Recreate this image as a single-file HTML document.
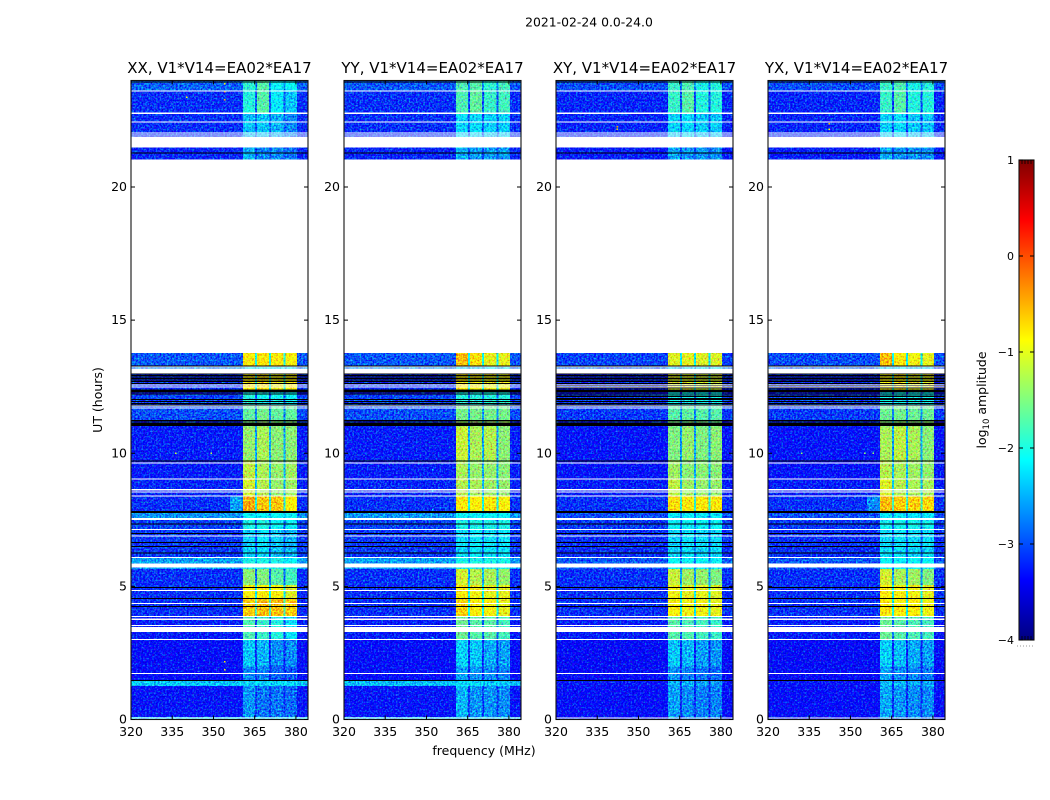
<!DOCTYPE html>
<html lang="en">
<head>
<meta charset="utf-8">
<title>2021-02-24 0.0-24.0</title>
<style>
html,body{margin:0;padding:0;background:#fff;width:1050px;height:800px;overflow:hidden}
svg{display:block}
text{font-family:"DejaVu Sans","Liberation Sans",sans-serif;fill:#000}
</style>
</head>
<body>
<svg id="figure" xmlns="http://www.w3.org/2000/svg" width="1050" height="800" viewBox="0 0 1050 800">
<defs>
<filter id="speckle" x="0" y="0" width="1" height="1" color-interpolation-filters="sRGB">
<feTurbulence type="fractalNoise" baseFrequency="0.55" numOctaves="2" seed="7" result="n"/>
<feColorMatrix in="n" type="matrix" values="0.5 0 0 0 0.25  0 1 0 0 0  0 0 0.5 0 0.25  0 0 0 0 1" result="c"/>
<feComposite in="SourceGraphic" in2="c" operator="arithmetic" k1="0" k2="1" k3="1.5" k4="-0.75" result="m"/>
<feComposite in="m" in2="SourceAlpha" operator="in"/>
</filter>
<linearGradient id="jet-gradient" x1="0" y1="1" x2="0" y2="0"></linearGradient>
</defs>
<text x="589" y="26.5" font-size="12.4" text-anchor="middle">2021-02-24 0.0-24.0</text>
<g id="panels"></g>
<text transform="translate(102,400) rotate(-90)" font-size="12.5" text-anchor="middle">UT (hours)</text>
<text x="484" y="755" font-size="12.5" text-anchor="middle">frequency (MHz)</text>
<g id="colorbar"></g>
<text transform="translate(986,400) rotate(-90)" font-size="12.5" text-anchor="middle">log<tspan font-size="8.5" dy="3">10</tspan><tspan dy="-3"> amplitude</tspan></text>
</svg>
<script>
const panelTitles = ['XX, V1*V14=EA02*EA17', 'YY, V1*V14=EA02*EA17', 'XY, V1*V14=EA02*EA17', 'YX, V1*V14=EA02*EA17'];
const xTicks = [320, 335, 350, 365, 380];
const yTicks = [0, 5, 10, 15, 20];
const colorTicks = [1, 0, -1, -2, -3, -4];

const subbandEdges = [[360.7, 365.2], [365.9, 370.3], [371, 375.5], [376.2, 380.4]];
const shoulderStart = 356;
const timeEdges = [24, 23.62, 22.8, 21.89, 21.48, 21.03, 13.77, 13.3, 13, 12.4, 12.21, 11.8, 11.24, 11.01, 9.74, 9.06, 8.39, 7.82, 7.56, 7.11, 6.06, 5.65, 5.05, 4.52, 3.88, 2.98, 2.0, 1.44, 1.26, 0.09, 0];

const levelsXX = [
[-2.9,-1.9,-1.7,-2.1,-2.1],[-3.15,-1.95,-1.7,-2.2,-2.4],[-3.15,-2.45,-2.4,-2.5,-2.7],[-3.15,-2.4,-2.4,-2.5,-2.6],[-3.2,-2.5,-2.7,-2.7,-2.8],[-3,-3,-3,-3,-3],
[-2.95,-0.8,-0.8,-0.8,-0.9],[-2.7,-2.3,-2.3,-2.3,-2.3],[-3.15,-0.85,-0.75,-0.95,-0.85],[-3.3,-2,-2,-2.1,-2.1],[-3.05,-1.95,-2.05,-2.05,-2.1],[-3.0,-1.65,-1.55,-1.65,-1.65],[-3.15,-1.5,-1.5,-1.5,-1.5],
[-3.25,-1.4,-1.3,-1.45,-1.45],[-3.25,-1.2,-1.3,-1.4,-1.35],[-3.2,-1.1,-1.25,-1.4,-1.35],[-3.15,-0.45,-0.6,-0.6,-0.85],[-2.65,-2.1,-2.1,-2.1,-2.1],[-3.05,-2,-2,-2.1,-2.15],[-3.1,-2.35,-2.25,-2.4,-2.5],
[-2.6,-2.0,-2.0,-2.0,-2.1],[-3.15,-1.45,-1.5,-1.7,-1.8],[-3.15,-0.85,-0.85,-0.9,-1.05],[-3.15,-0.65,-0.55,-0.55,-0.65],[-3.25,-1.75,-1.85,-1.95,-2.25],[-3.35,-2.4,-2.5,-2.7,-2.7],[-3.35,-2.7,-2.75,-2.9,-2.95],[-2.4,-2.35,-2.35,-2.35,-2.35],[-3.3,-2.65,-2.8,-2.8,-2.85],[-2.4,-2.35,-2.35,-2.35,-2.35]
];
const levelsYY = [
[-2.95,-1.75,-1.7,-1.9,-1.8],[-3.15,-1.75,-1.65,-1.85,-1.8],[-3.15,-2.3,-2.3,-2.35,-2.35],[-3.15,-2.3,-2.3,-2.3,-2.3],[-3.2,-2.5,-2.6,-2.6,-2.6],[-3,-3,-3,-3,-3],
[-2.95,-0.55,-0.75,-1.0,-1.0],[-2.7,-2.3,-2.3,-2.3,-2.3],[-3.15,-0.85,-0.85,-0.95,-0.95],[-3.3,-2,-2,-2,-2],[-3.05,-1.95,-1.95,-1.95,-1.95],[-3.0,-1.55,-1.55,-1.55,-1.55],[-3.15,-1.4,-1.4,-1.4,-1.4],
[-3.25,-1.15,-1.3,-1.25,-1.45],[-3.25,-1.3,-1.4,-1.4,-1.45],[-3.2,-1.25,-1.3,-1.35,-1.4],[-3.15,-0.8,-0.85,-0.8,-0.9],[-2.65,-2.1,-2.1,-2.1,-2.1],[-3.05,-2,-2,-2,-2],[-3.1,-2.3,-2.2,-2.25,-2.25],
[-2.6,-2.0,-2.0,-2.0,-2.0],[-3.15,-1.1,-1.25,-1.3,-1.4],[-3.15,-0.85,-0.95,-1.0,-1.0],[-3.15,-0.65,-0.85,-0.9,-1.0],[-3.25,-1.6,-1.7,-1.7,-1.8],[-3.35,-2.35,-2.4,-2.55,-2.6],[-3.35,-2.6,-2.65,-2.7,-2.75],[-2.45,-2.3,-2.3,-2.4,-2.4],[-3.3,-2.5,-2.65,-2.65,-2.7],[-2.45,-2.35,-2.35,-2.35,-2.35]
];
const levelsXY = [
[-3.0,-1.85,-1.75,-2,-1.95],[-3.2,-1.85,-1.7,-1.95,-1.95],[-3.2,-2.35,-2.3,-2.4,-2.4],[-3.15,-2.4,-2.4,-2.4,-2.4],[-3.25,-2.55,-2.65,-2.65,-2.65],[-3,-3,-3,-3,-3],
[-3.05,-1.05,-1.0,-1.05,-1.05],[-2.9,-2.3,-2.3,-2.3,-2.3],[-3.2,-1.05,-1.05,-1.1,-1.1],[-3.35,-2.1,-2.1,-2.1,-2.1],[-3.1,-2.05,-2.05,-2.05,-2.05],[-3.1,-1.7,-1.65,-1.7,-1.7],[-3.2,-1.55,-1.55,-1.55,-1.55],
[-3.3,-1.5,-1.4,-1.5,-1.45],[-3.3,-1.35,-1.45,-1.45,-1.45],[-3.25,-1.2,-1.35,-1.4,-1.4],[-3.15,-0.75,-0.8,-0.8,-0.8],[-3.0,-2.2,-2.2,-2.2,-2.2],[-3.1,-2.1,-2.1,-2.1,-2.1],[-3.15,-2.35,-2.25,-2.3,-2.3],
[-2.95,-2.1,-2.1,-2.1,-2.1],[-3.15,-1.15,-1.35,-1.4,-1.5],[-3.15,-0.95,-1.0,-1.0,-1.05],[-3.15,-0.9,-0.95,-0.95,-1.0],[-3.25,-1.7,-1.75,-1.8,-1.85],[-3.4,-2.4,-2.5,-2.6,-2.65],[-3.4,-2.65,-2.75,-2.8,-2.85],[-3.3,-2.5,-2.5,-2.6,-2.6],[-3.35,-2.6,-2.7,-2.75,-2.75],[-3.3,-2.7,-2.7,-2.7,-2.7]
];
const levelsYX = [
[-3.0,-1.85,-1.75,-2,-1.95],[-3.2,-1.85,-1.7,-1.95,-1.95],[-3.2,-2.35,-2.3,-2.4,-2.4],[-3.15,-2.4,-2.4,-2.4,-2.4],[-3.25,-2.55,-2.65,-2.65,-2.65],[-3,-3,-3,-3,-3],
[-3.0,-0.55,-0.8,-0.95,-1.0],[-2.9,-2.3,-2.3,-2.3,-2.3],[-3.2,-0.9,-0.85,-1.0,-1.0],[-3.35,-2.1,-2.1,-2.1,-2.1],[-3.05,-2.05,-2.05,-2.05,-2.05],[-3.1,-1.6,-1.55,-1.6,-1.6],[-3.2,-1.45,-1.45,-1.45,-1.45],
[-3.3,-1.3,-1.2,-1.3,-1.45],[-3.3,-1.25,-1.3,-1.35,-1.4],[-3.25,-1.05,-1.25,-1.3,-1.3],[-3.15,-0.55,-0.65,-0.65,-0.7],[-3.0,-2.2,-2.2,-2.2,-2.2],[-3.1,-2.05,-2.05,-2.05,-2.05],[-3.15,-2.3,-2.25,-2.3,-2.3],
[-2.95,-2.1,-2.1,-2.1,-2.1],[-3.15,-1.1,-1.3,-1.35,-1.5],[-3.15,-0.85,-0.9,-0.95,-1.0],[-3.15,-0.8,-0.85,-0.85,-0.95],[-3.25,-1.6,-1.7,-1.75,-1.8],[-3.4,-2.35,-2.45,-2.55,-2.6],[-3.4,-2.6,-2.7,-2.75,-2.8],[-3.3,-2.45,-2.45,-2.55,-2.55],[-3.35,-2.55,-2.65,-2.7,-2.7],[-3.3,-2.7,-2.7,-2.7,-2.7]
];
const panelLevels = [levelsXX, levelsYY, levelsXY, levelsYX];
const shoulderLevels = [-2.6, -3.1, -3.15, -2.7];
const shoulderBand = 16;

const whiteFlags = [[23.62,23.58],[22.79,22.75],[22.46,22.42],[22.05,22.02],[21.97,21.93],[21.89,21.49],[21.03,13.77],[13.26,13.22],[13.18,13],[12.59,12.55],[12.51,12.48],[11.8,11.76],[11.72,11.68],[9.66,9.62],[9.06,9.02],[8.65,8.61],[8.57,8.54],[8.42,8.39],[7.56,7.49],[7.15,7.11],[6.92,6.89],[6.1,6.06],[5.85,5.7],[4.86,4.82],[4.37,4.33],[3.88,3.85],[3.79,3.73],[3.55,3.51],[3.47,3.28],[3.02,2.98],[1.74,1.71],[0.08,0.055]];
const blackFlags = [[23.97,23.94],[21.29,21.25],[13.3,13.27],[13,12.96],[12.94,12.91],[12.89,12.86],[12.83,12.8],[12.77,12.74],[12.71,12.68],[12.64,12.61],[12.4,12.29],[12.25,12.2],[12.04,12.01],[11.96,11.93],[11.89,11.86],[11.83,11.8],[11.24,11.2],[11.16,11.03],[9.73,9.7],[7.83,7.76],[7.37,7.34],[7,6.96],[6.66,6.62],[6.51,6.47],[6.28,6.25],[4.97,4.93],[4.56,4.52],[4.26,4.22],[1.48,1.44]];
const extraBlackCross = [[12.58,12.52],[12.47,12.43],[12.17,12.12],[12.08,12.05]];

const rfiFreq = [[353.8,353.8,353.8,340,336,349,353.8,353.8],[352,352,352,352],[342,342],[342,342,332,358,355]];
const rfiHour = [[23.9,23.6,23.3,23.4,10.02,10.02,2.2,1.9],[9.4,8.6,7.9,3.1],[22.3,22.2],[22.4,22.2,10.02,10.02,10.02]];
const rfiLevel = [[-0.8,-0.3,-0.5,-0.9,-1.1,-1.2,-0.8,-0.8],[-2.2,-2.2,-2.2,-2.2],[-0.4,-0.6],[-0.5,-0.9,-1.4,-1.4,-1.4]];

const panelLeft = [131, 344, 556, 768];
const panelWidth = 177;
const plotTop = 80.5, plotBottom = 719.5;
const freqMin = 320, freqMax = 384.4, hourMin = 0, hourMax = 24;
const cbarLeft = 1019, cbarRight = 1034, cbarTop = 160, cbarBottom = 640;
const NS = 'http://www.w3.org/2000/svg';

function xScale(p, f) { return panelLeft[p] + (f - freqMin) / (freqMax - freqMin) * panelWidth; }
function yScale(h) { return plotBottom - (h - hourMin) / (hourMax - hourMin) * (plotBottom - plotTop); }
function cbarScale(v) { return cbarBottom - (v + 4) / 5 * (cbarBottom - cbarTop); }
function clamp01(v) { return Math.max(0, Math.min(1, v)); }
function jet(t) {
  const r = clamp01(1.5 - Math.abs(4 * t - 3));
  const g = clamp01(1.5 - Math.abs(4 * t - 2));
  const b = clamp01(1.5 - Math.abs(4 * t - 1));
  return 'rgb(' + Math.round(r * 255) + ',' + Math.round(g * 255) + ',' + Math.round(b * 255) + ')';
}
function levelColor(v) { return jet((v + 4) / 5); }
function make(tag, attrs, parent) {
  const el = document.createElementNS(NS, tag);
  for (const k in attrs) el.setAttribute(k, attrs[k]);
  parent.appendChild(el);
  return el;
}

function drawPanel(p) {
  const root = document.getElementById('panels');
  const g = make('g', {}, root);
  
  

  const cells = make('g', { filter: 'url(#speckle)', 'shape-rendering': 'crispEdges' }, g);
  
  
  const levels = panelLevels[p];
  const left = freqMin, right = freqMax;
  for (let b = 0; b < levels.length; b++) {
    const row = levels[b];
    const y0 = yScale(timeEdges[b]), y1 = yScale(timeEdges[b + 1]);
    const sig = row.slice(1);
    const gap = Math.max(Math.min.apply(null, sig) - 1.1, row[0] + 0.2);
    const cols = [];
    cols.push([left, shoulderStart, row[0]]);
    cols.push([shoulderStart, subbandEdges[0][0], b === shoulderBand ? shoulderLevels[p] : row[0]]);
    for (let s = 0; s < 4; s++) {
      cols.push([subbandEdges[s][0], subbandEdges[s][1], sig[s]]);
      if (s < 3) cols.push([subbandEdges[s][1], subbandEdges[s + 1][0], gap]);
    }
    cols.push([subbandEdges[3][1], right, row[0]]);
    for (const c of cols) {
      const x0 = xScale(p, c[0]), x1 = xScale(p, c[1]);
      const cell = make('rect', { x: x0, y: y0, width: x1 - x0, height: y1 - y0, fill: levelColor(c[2]) }, cells);
      
      
    }
  }

  const dots = make('g', { 'shape-rendering': 'crispEdges' }, g);
  
  
  for (let i = 0; i < rfiFreq[p].length; i++) {
    const dot = make('rect', { x: xScale(p, rfiFreq[p][i]), y: yScale(rfiHour[p][i]), width: 1.5, height: 1.5, fill: levelColor(rfiLevel[p][i]) }, dots);
    
    
  }

  const flags = make('g', { 'shape-rendering': 'crispEdges' }, g);
  
  
  const x0 = xScale(p, freqMin), x1 = xScale(p, freqMax);
  const blacks = p >= 2 ? blackFlags.concat(extraBlackCross) : blackFlags;
  for (const f of blacks) {
    const r = make('rect', { x: x0, y: yScale(f[0]), width: x1 - x0, height: Math.max(1, yScale(f[1]) - yScale(f[0])), fill: '#000' }, flags);
    
    
  }
  for (const f of whiteFlags) {
    const r = make('rect', { x: x0, y: yScale(f[0]), width: x1 - x0, height: Math.max(1, yScale(f[1]) - yScale(f[0])), fill: '#fff' }, flags);
    
    
  }

  const frame = make('rect', { x: x0, y: plotTop, width: x1 - x0, height: plotBottom - plotTop, fill: 'none', stroke: '#111', 'stroke-width': 1.1 }, g);
  
  

  for (const v of xTicks) {
    const x = xScale(p, v);
    make('path', { d: 'M' + x + ' ' + plotBottom + 'v-4M' + x + ' ' + plotTop + 'v4', stroke: '#000', 'stroke-width': 1, fill: 'none' }, g);
    const t = make('text', { x: x, y: 736, 'font-size': 12.5, 'text-anchor': 'middle' }, g);
    
    
    t.textContent = v;
  }
  for (const v of yTicks) {
    const y = yScale(v);
    make('path', { d: 'M' + x0 + ' ' + y + 'h4M' + x1 + ' ' + y + 'h-4', stroke: '#000', 'stroke-width': 1, fill: 'none' }, g);
    const t = make('text', { x: x0 - 4, y: y + 4, 'font-size': 12.5, 'text-anchor': 'end' }, g);
    
    
    t.textContent = v;
  }
  const title = make('text', { x: (x0 + x1) / 2, y: 73, 'font-size': 15, 'text-anchor': 'middle' }, g);
  
  
  title.textContent = panelTitles[p];
}
for (let p = 0; p < panelTitles.length; p++) drawPanel(p);

function drawColorbar() {
  const grad = document.getElementById('jet-gradient');
  for (let i = 0; i <= 32; i++) {
    make('stop', { offset: i / 32, 'stop-color': jet(i / 32) }, grad);
  }
  const g = document.getElementById('colorbar');
  const bar = make('rect', { x: cbarLeft, y: cbarTop, width: cbarRight - cbarLeft, height: cbarBottom - cbarTop, fill: 'url(#jet-gradient)', stroke: '#111', 'stroke-width': 1.1 }, g);
  
  
  for (const v of colorTicks) {
    const y = cbarScale(v);
    make('path', { d: 'M' + cbarLeft + ' ' + y + 'h4M' + cbarRight + ' ' + y + 'h-4', stroke: '#000', 'stroke-width': 1, fill: 'none' }, g);
    const t = make('text', { x: cbarLeft - 5, y: y + 4, 'font-size': 11, 'text-anchor': 'end' }, g);
    
    
    t.textContent = String(v).replace('-', '\u2212');
  }
  for (let i = 1; i <= 4; i++) {
    const x = cbarLeft + i * 3;
    make('path', { d: 'M' + x + ' ' + cbarTop + 'v4M' + x + ' ' + cbarBottom + 'v-4', stroke: '#000', 'stroke-width': 0.8, fill: 'none' }, g);
  }
  const dots = make('path', { d: 'M' + (cbarLeft - 2) + ' 646H' + (cbarRight + 1), stroke: '#999', 'stroke-width': 1, 'stroke-dasharray': '1 2', fill: 'none' }, g);
  
  
}
drawColorbar();
</script>
</body>
</html>
